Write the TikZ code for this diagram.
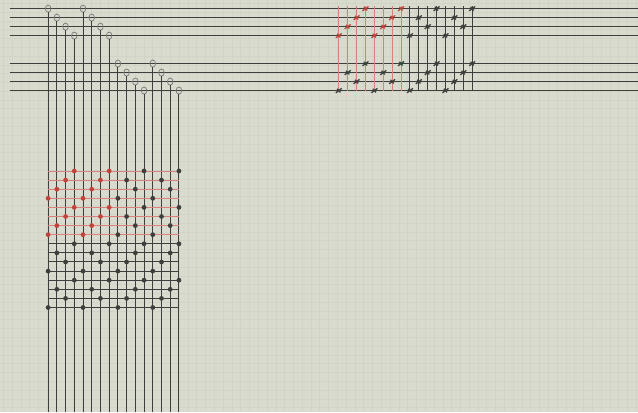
\documentclass[tikz,border=0pt]{standalone}
\usetikzlibrary{calc}
\definecolor{paper}{HTML}{D9DBCF}
\definecolor{paperline}{HTML}{D1D4C6}
\definecolor{ink}{HTML}{3E3E3C}
\definecolor{redink}{HTML}{C0443B}
\definecolor{redline}{HTML}{D8807A}

\tikzset{
  yarn/.style={ink,line width=1pt},
  redyarn/.style={redline,line width=0.9pt},
  heddle/.style={draw=ink!70,line width=0.7pt},
  tiestroke/.style={line width=1.3pt}
}
% a tie-up cross at a given point, in a given colour
\newcommand{\tiecross}[2]{%
  \draw[tiestroke,#2] ($(#1)+(-3,2.2)$) -- ($(#1)+(3,-2.2)$);
  \draw[tiestroke,#2] ($(#1)+(-1.6,-1.8)$) -- ($(#1)+(1.6,1.8)$);
}

\begin{document}
\begin{tikzpicture}[x=1pt,y=-1pt]
% Paper: faint squared grid
\fill[paper] (0,0) rectangle (638,412);
\foreach \g in {0,...,72} \draw[paperline,line width=0.35pt] (\g*8.8+3,0) -- ++(0,412);
\foreach \g in {0,...,46} \draw[paperline,line width=0.35pt] (0,\g*8.8+3) -- ++(638,0);
% Step 1: the eight shaft lines
\foreach \s/\y in {1/8.5,2/17.5,3/26.5,4/35.5,5/63.5,6/72.5,7/81.5,8/90.5} {
  \coordinate (s\s) at (0,\y);
  \draw[yarn] (9.5,\y) -- (638,\y);
}
% Step 2: threading, one heddle per warp end
\foreach \i/\s in {1/1,2/2,3/3,4/4,5/1,6/2,7/3,8/4,9/5,10/6,11/7,12/8,13/5,14/6,15/7,16/8} {
  \pgfmathsetmacro\wx{48+(\i-1)*8.73}
  \coordinate (h\i) at (\wx,0 |- s\s);
  \draw[heddle] (h\i) ellipse [x radius=2.8, y radius=3.6];
  \draw[yarn] (h\i) ++(0,3.6) -- (h\i |- 0,412);
}
% Step 3: tie-up / peg plan
\foreach \j in {1,...,16} {
  \pgfmathsetmacro\tx{339+(\j-1)*8.9}
  \coordinate (t\j) at (\tx,0);
  \ifnum\j<9
    \draw[redyarn] (t\j |- 0,6) -- (t\j |- 0,91);
  \else
    \draw[yarn] (t\j |- 0,6) -- (t\j |- 0,91);
  \fi
}
\foreach \j/\a/\b in {1/4/8,2/3/6,3/2/7,4/1/5,5/4/8,6/3/6,7/2/7,8/1/5,
                      9/4/8,10/2/7,11/3/6,12/1/5,13/4/8,14/2/7,15/3/6,16/1/5} {
  \ifnum\j<9 \def\tone{redink}\else \def\tone{ink}\fi
  \tiecross{t\j |- s\a}{\tone}
  \tiecross{t\j |- s\b}{ink}
}
% Step 4: drawdown, picks follow the peg plan
\foreach \k/\a/\b in {1/4/8,2/3/6,3/2/7,4/1/5,5/4/8,6/3/6,7/2/7,8/1/5,
                      9/4/8,10/2/7,11/3/6,12/1/5,13/4/8,14/2/7,15/3/6,16/1/5} {
  \pgfmathsetmacro\py{171+(\k-1)*9.11}
  \coordinate (p\k) at (0,\py);
  \ifnum\k<9
    \def\tone{redink}
    \draw[redyarn] (h1 |- p\k) -- (h16 |- p\k);
  \else
    \def\tone{ink}
    \draw[yarn] (h1 |- p\k) -- (h16 |- p\k);
  \fi
  \pgfmathtruncatemacro\ta{\a+4}
  \pgfmathtruncatemacro\tb{\b+4}
  \pgfmathtruncatemacro\tc{\b+8}
  \fill[\tone] (h\a |- p\k) circle [radius=2.4pt];
  \fill[\tone] (h\ta |- p\k) circle [radius=2.4pt];
  \fill[ink] (h\tb |- p\k) circle [radius=2.4pt];
  \fill[ink] (h\tc |- p\k) circle [radius=2.4pt];
}
\end{tikzpicture}
\end{document}
